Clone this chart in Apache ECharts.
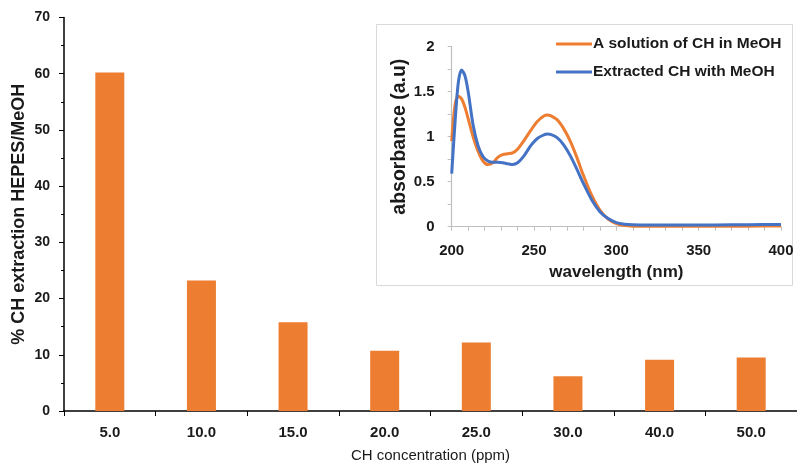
<!DOCTYPE html>
<html>
<head>
<meta charset="utf-8">
<script src="https://cdn.jsdelivr.net/npm/echarts@6/dist/echarts.min.js"></script>
<style>
  html, body { margin: 0; padding: 0; background: #fff; }
  #chart { width: 797px; height: 466px; }
</style>
</head>
<body>
<div id="chart"></div>
<script>
// bar chart data
const concentrations = ['5.0', '10.0', '15.0', '20.0', '25.0', '30.0', '40.0', '50.0']
const extraction = [60.2, 23.2, 15.8, 10.7, 12.2, 6.2, 9.1, 9.5]

// inset spectra
const wavelengths = [200, 202, 204, 206, 208, 210, 213, 216, 219, 222, 225, 228, 231, 234, 237, 240, 244, 248,
  252, 256, 258, 260, 264, 268, 272, 276, 280, 285, 290, 295, 300, 305, 310, 320, 340, 360, 380, 400]
const solutionAbs = [0.95, 1.35, 1.45, 1.42, 1.33, 1.20, 1.00, 0.84, 0.73, 0.69, 0.71, 0.77, 0.80, 0.81, 0.82, 0.86, 0.96, 1.07,
  1.17, 1.23, 1.24, 1.235, 1.19, 1.09, 0.95, 0.77, 0.57, 0.35, 0.185, 0.085, 0.035, 0.012, 0.006, 0.005, 0.005, 0.005, 0.006, 0.008]
const extractedAbs = [0.59, 1.15, 1.60, 1.74, 1.68, 1.50, 1.13, 0.90, 0.78, 0.73, 0.715, 0.715, 0.71, 0.70, 0.69, 0.71, 0.79, 0.90,
  0.98, 1.02, 1.03, 1.025, 0.99, 0.91, 0.79, 0.64, 0.48, 0.30, 0.167, 0.09, 0.045, 0.028, 0.022, 0.02, 0.02, 0.02, 0.022, 0.025]

const orange = '#ED7D31'
const blue = '#4472C4'
const txt = '#1a1a1a'
const sans = 'Liberation Sans, Arial, sans-serif'

const pairs = arr => wavelengths.map((w, i) => [w, arr[i]])

const chart = echarts.init(document.getElementById('chart'), null, { renderer: 'canvas' })
chart.setOption({
  animation: false,
  backgroundColor: '#fff',
  graphic: [{
    type: 'rect',
    z: 0,
    shape: { x: 376.5, y: 24.5, width: 416, height: 261 },
    style: { fill: '#fff', stroke: '#d9d9d9', lineWidth: 1 }
  }],
  legend: {
    orient: 'vertical',
    left: 551,
    top: 31,
    icon: 'rect',
    itemWidth: 36,
    itemHeight: 3,
    itemGap: 12,
    textStyle: { fontFamily: sans, fontWeight: 'bold', fontSize: 15.5, color: txt, padding: [0, 0, 0, -4] },
    data: ['A solution of CH in MeOH', 'Extracted CH with MeOH']
  },
  grid: [
    { left: 64, right: 0, top: 17.5, bottom: 55, outerBoundsMode: 'none' },
    { left: 451.7, right: 16, top: 46.7, bottom: 239.3, outerBoundsMode: 'none' }
  ],
  xAxis: [{
    gridIndex: 0,
    type: 'category',
    data: concentrations,
    name: 'CH concentration (ppm)',
    nameLocation: 'middle',
    nameGap: 37,
    nameTextStyle: { fontFamily: sans, fontSize: 15, color: txt },
    axisLine: { lineStyle: { color: '#000', width: 1.5 } },
    axisTick: { show: true, length: 5, lineStyle: { color: '#000' } },
    axisLabel: { margin: 14, fontFamily: sans, fontWeight: 'bold', fontSize: 15, color: txt }
  }, {
    gridIndex: 1,
    type: 'value',
    min: 200,
    max: 400,
    interval: 50,
    name: 'wavelength (nm)',
    nameLocation: 'middle',
    nameGap: 37,
    nameTextStyle: { fontFamily: sans, fontWeight: 'bold', fontSize: 17, color: txt },
    axisLine: { lineStyle: { color: '#bfbfbf', width: 1.2 } },
    axisTick: { show: true, length: 4, lineStyle: { color: '#bfbfbf' } },
    minorTick: { show: true, splitNumber: 5, length: 4, lineStyle: { color: '#bfbfbf' } },
    splitLine: { show: false },
    axisLabel: { margin: 17, fontFamily: sans, fontWeight: 'bold', fontSize: 15, color: txt }
  }],
  yAxis: [{
    gridIndex: 0,
    type: 'value',
    min: 0,
    max: 70,
    interval: 10,
    name: '% CH extraction HEPES/MeOH',
    nameLocation: 'middle',
    nameGap: 36,
    nameMoveOverlap: false,
    nameTextStyle: { fontFamily: sans, fontWeight: 'bold', fontSize: 18, color: txt },
    axisLine: { show: true, lineStyle: { color: '#000', width: 1.5 } },
    axisTick: { show: true, length: 5, lineStyle: { color: '#000' } },
    minorTick: { show: true, splitNumber: 2, length: 3, lineStyle: { color: '#000' } },
    splitLine: { show: false },
    axisLabel: { margin: 14, fontFamily: sans, fontWeight: 'bold', fontSize: 14, color: txt }
  }, {
    gridIndex: 1,
    type: 'value',
    min: 0,
    max: 2,
    interval: 0.5,
    name: 'absorbance (a.u)',
    nameLocation: 'middle',
    nameGap: 37,
    nameTextStyle: { fontFamily: sans, fontWeight: 'bold', fontSize: 19.5, color: txt },
    axisLine: { show: true, lineStyle: { color: '#bfbfbf', width: 1.2 } },
    axisTick: { show: true, length: 4, lineStyle: { color: '#bfbfbf' } },
    minorTick: { show: true, splitNumber: 2, length: 4, lineStyle: { color: '#bfbfbf' } },
    splitLine: { show: false },
    axisLabel: { margin: 17, fontFamily: sans, fontWeight: 'bold', fontSize: 15, color: txt }
  }],
  series: [{
    type: 'bar',
    xAxisIndex: 0,
    yAxisIndex: 0,
    data: extraction,
    barWidth: 29,
    itemStyle: { color: orange }
  }, {
    name: 'A solution of CH in MeOH',
    type: 'line',
    xAxisIndex: 1,
    yAxisIndex: 1,
    data: pairs(solutionAbs),
    smooth: 0.3,
    symbol: 'none',
    z: 3,
    color: orange,
    lineStyle: { color: orange, width: 3 }
  }, {
    name: 'Extracted CH with MeOH',
    type: 'line',
    xAxisIndex: 1,
    yAxisIndex: 1,
    data: pairs(extractedAbs),
    smooth: 0.3,
    symbol: 'none',
    z: 4,
    color: blue,
    lineStyle: { color: blue, width: 3 }
  }]
})
</script>
</body>
</html>
